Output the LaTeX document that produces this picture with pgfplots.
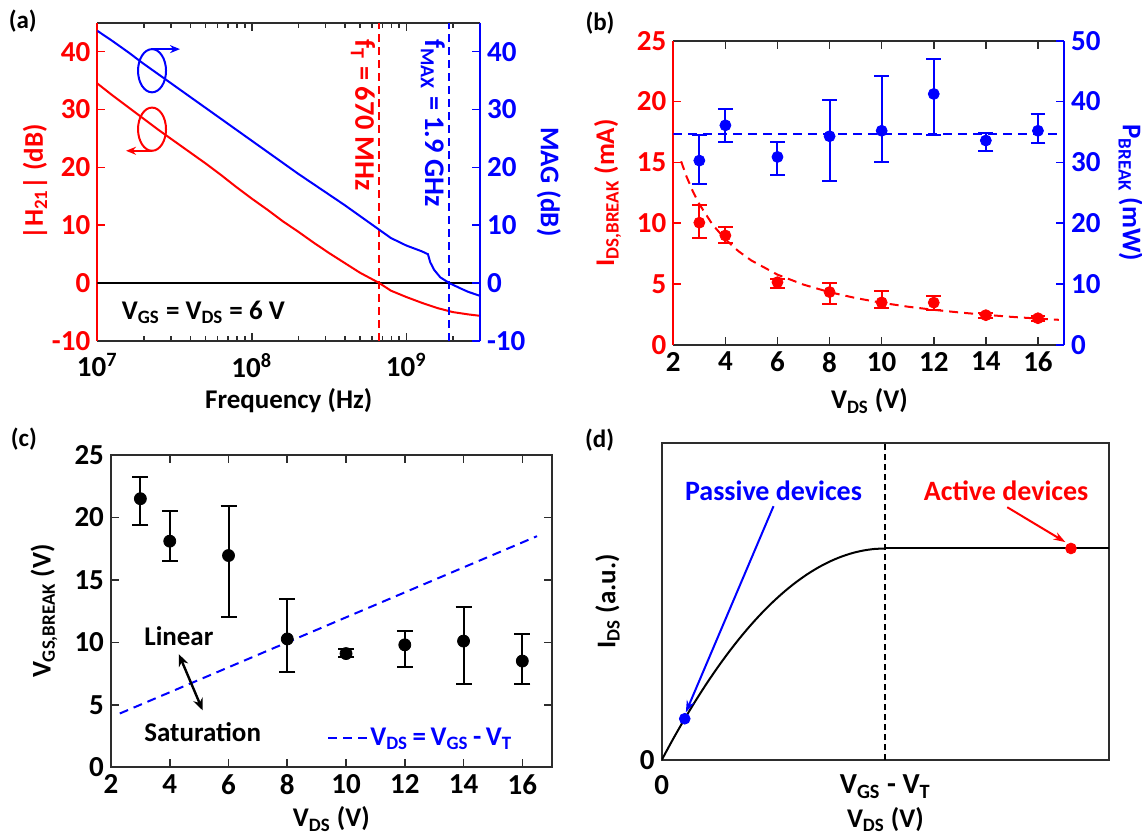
\documentclass[border=0pt]{standalone}
\usepackage{fontspec}
\setmainfont{Carlito}
\usepackage{pgfplots}
\pgfplotsset{compat=1.18}
\usetikzlibrary{arrows.meta}
\definecolor{axgray}{RGB}{45,45,45}
\pgfplotsset{
  every axis/.append style={
    scale only axis,
    anchor=north west,
    font=\fontsize{13.5}{16}\selectfont\bfseries,
    /pgf/number format/assume math mode=true,
    axis line style={line width=1pt, axgray},
    major tick length=4pt, minor tick length=2.5pt,
    every tick/.style={line width=0.8pt, axgray},
    tick align=inside,
    tick label style={font=\fontsize{14.5}{16}\selectfont\bfseries},
    xlabel style={font=\fontsize{14.5}{16}\selectfont\bfseries},
    ylabel style={font=\fontsize{14.5}{16}\selectfont\bfseries},
  },
  ebar/.style={error bars/.cd, y dir=both, y explicit,
    error bar style={line width=1pt}, error mark options={rotate=90, mark size=#1, line width=1pt}},
}
\begin{document}
\begin{tikzpicture}[font=\fontsize{13.5}{16}\selectfont\bfseries]
\path[use as bounding box] (0,0) rectangle (571pt,-418pt);
\node at (11.4pt,-10.8pt) {\fontsize{12.5}{14}\selectfont (a)};
\node at (300pt,-11.7pt) {\fontsize{12.5}{14}\selectfont (b)};
\node at (11.9pt,-219.4pt) {\fontsize{12.5}{14}\selectfont (c)};
\node at (299.8pt,-220.2pt) {\fontsize{12.5}{14}\selectfont (d)};

% ---------------- (a) left axis
\begin{axis}[at={(48.65pt,-11.35pt)}, width=191.35pt, height=159.15pt,
  xmode=log, xmin=1e7, xmax=3e9, ymin=-10, ymax=45,
  axis y line*=left, y axis line style={red},
  ytick={-10,0,10,20,30,40}, ytick style={red}, yticklabel style={red},
  xtick={1e7,1e8,1e9}, xticklabels={10\textsuperscript{7},10\textsuperscript{8},10\textsuperscript{9}},
  xticklabel style={yshift=-2.5pt},
  minor xtick={2e7,3e7,4e7,5e7,6e7,7e7,8e7,9e7,2e8,3e8,4e8,5e8,6e8,7e8,8e8,9e8,2e9,3e9},
  xlabel={Frequency (Hz)},
  ylabel={\textbar H\textsubscript{21}\textbar\ (dB)},
  every axis y label/.style={at={(axis description cs:-0.163,0.5)}, rotate=90, anchor=center, red},
  every axis x label/.style={at={(axis description cs:0.5,-0.188)}, anchor=center},
]
\addplot[black, line width=0.9pt] coordinates {(1e7,0) (3e9,0)};
\addplot[red, line width=1pt] coordinates {
(1e7,34.5) (1.259e7,32.4) (1.585e7,30.4) (1.995e7,28.4) (2.512e7,26.4) (3.162e7,24.5)
(3.981e7,22.6) (5.012e7,20.7) (6.310e7,18.7) (7.943e7,16.6) (1e8,14.6) (1.259e8,12.7)
(1.585e8,10.7) (1.995e8,8.9) (2.512e8,7.0) (3.162e8,5.2) (3.981e8,3.5) (5.012e8,1.8)
(6.7e8,0) (7.943e8,-1.3) (1e9,-2.4) (1.259e9,-3.4) (1.585e9,-4.3) (1.995e9,-5.0)
(2.512e9,-5.4) (3e9,-5.65)};
\addplot[red, line width=1pt, dash pattern=on 4pt off 2.5pt] coordinates {(6.7e8,-10) (6.7e8,45)};
\addplot[blue, line width=1pt, dash pattern=on 4pt off 2.5pt] coordinates {(1.9e9,-10) (1.9e9,45)};
\node[red, rotate=-90, anchor=north west, inner sep=2pt, font=\fontsize{14.2}{16}\selectfont\bfseries] at (axis cs:6.7e8,42.8) {f\textsubscript{T} = 670 MHz};
\node[blue, rotate=-90, anchor=north west, inner sep=2pt, font=\fontsize{14.2}{16}\selectfont\bfseries] at (axis cs:1.9e9,42.9) {f\textsubscript{MAX} = 1.9 GHz};
\node[black, anchor=west] at (axis cs:1.3e7,-5.1) {V\textsubscript{GS} = V\textsubscript{DS} = 6 V};
\draw[blue, line width=1pt] (axis cs:2.26e7,36.7) ellipse [x radius=7pt, y radius=10.8pt];
\draw[blue, line width=1pt, -{Stealth[length=5pt,width=4pt]}] (axis cs:2.26e7,36.7) ++(0pt,10.8pt) -- ++(14pt,0pt);
\draw[red, line width=1pt] (axis cs:2.26e7,26.6) ellipse [x radius=7pt, y radius=10.8pt];
\draw[red, line width=1pt, -{Stealth[length=5pt,width=4pt]}] (axis cs:2.26e7,26.6) ++(0pt,-10.8pt) -- ++(-13pt,0pt);
\end{axis}
% ---------------- (a) right axis
\begin{axis}[at={(48.65pt,-11.35pt)}, width=191.35pt, height=159.15pt,
  xmode=log, xmin=1e7, xmax=3e9, ymin=-10, ymax=45,
  axis y line*=right, axis x line=none, y axis line style={blue},
  ytick={-10,0,10,20,30,40}, ytick style={blue}, yticklabel style={blue},
  ylabel={MAG (dB)},
  every axis y label/.style={at={(axis description cs:1.18,0.5)}, rotate=-90, anchor=center, blue},
]
\addplot[blue, line width=1pt] coordinates {
(1e7,43.6) (1.259e7,41.8) (1.585e7,39.9) (1.995e7,37.9) (2.512e7,36.0) (3.162e7,34.1)
(3.981e7,32.2) (5.012e7,30.3) (6.310e7,28.4) (7.943e7,26.5) (1e8,24.6) (1.259e8,22.7)
(1.585e8,20.8) (1.995e8,18.9) (2.512e8,17.1) (3.162e8,15.3) (3.981e8,13.5) (5.012e8,11.6)
(6.7e8,9.2) (7.943e8,7.8) (1e9,6.5) (1.259e9,5.5) (1.380e9,5.0) (1.429e9,3.6)
(1.514e9,2.3) (1.660e9,1.0) (1.9e9,0) (2.239e9,-0.9) (2.512e9,-1.5) (3e9,-2.2)};
\end{axis}

% ---------------- (b) left axis
\begin{axis}[at={(336.65pt,-20.35pt)}, width=195.35pt, height=152.15pt,
  xmin=2, xmax=17, ymin=0, ymax=25,
  axis y line*=left, y axis line style={red},
  ytick={0,5,10,15,20,25}, ytick style={red}, yticklabel style={red},
  xtick={2,4,...,16},
  xlabel={V\textsubscript{DS} (V)},
  ylabel={I\textsubscript{DS,BREAK} (mA)},
  every axis y label/.style={at={(axis description cs:-0.168,0.5)}, rotate=90, anchor=center, red},
  every axis x label/.style={at={(axis description cs:0.502,-0.184)}, anchor=center},
]
\addplot[red, line width=1pt, dash pattern=on 4.5pt off 3pt] coordinates {
(2.3,15.09) (2.5,13.88) (2.75,12.62) (3,11.57) (3.5,9.91) (4,8.68) (4.5,7.71) (5,6.94)
(6,5.78) (7,4.96) (8,4.34) (9,3.86) (10,3.47) (11,3.15) (12,2.89) (13,2.67) (14,2.48)
(15,2.31) (16,2.17) (16.8,2.07)};
\addplot[red, only marks, mark=*, mark size=2.75pt, ebar=3.7pt] coordinates {
(3,10.05) += (0,1.45) -= (0,1.25)
(4,9.0) += (0,0.7) -= (0,0.65)
(6,5.16) += (0,0.3) -= (0,0.45)
(8,4.35) += (0,0.75) -= (0,0.95)
(10,3.5) += (0,0.95) -= (0,0.5)
(12,3.48) += (0,0.52) -= (0,0.63)
(14,2.45) += (0,0.15) -= (0,0.25)
(16,2.2) += (0,0.2) -= (0,0.2)};
\end{axis}
% ---------------- (b) right axis
\begin{axis}[at={(336.65pt,-20.35pt)}, width=195.35pt, height=152.15pt,
  xmin=2, xmax=17, ymin=0, ymax=50,
  axis y line*=right, axis x line=none, y axis line style={blue},
  ytick={0,10,20,30,40,50}, ytick style={blue}, yticklabel style={blue},
  ylabel={P\textsubscript{BREAK} (mW)},
  every axis y label/.style={at={(axis description cs:1.171,0.5)}, rotate=-90, anchor=center, blue},
]
\addplot[blue, line width=1pt, dash pattern=on 4.5pt off 3pt] coordinates {(2,34.7) (16.8,34.7)};
\addplot[blue, only marks, mark=*, mark size=2.75pt, ebar=3.7pt] coordinates {
(3,30.3) += (0,4.2) -= (0,3.8)
(4,36.1) += (0,2.65) -= (0,2.8)
(6,30.9) += (0,2.4) -= (0,2.9)
(8,34.3) += (0,6.0) -= (0,7.3)
(10,35.2) += (0,9.0) -= (0,5.2)
(12,41.25) += (0,5.75) -= (0,6.75)
(14,33.6) += (0,1.3) -= (0,1.7)
(16,35.2) += (0,2.7) -= (0,2.0)};
\end{axis}

% ---------------- (c)
\begin{axis}[at={(55.5pt,-227.5pt)}, width=220.35pt, height=156.1pt,
  xmin=2, xmax=17, ymin=0, ymax=25,
  xtick={2,4,...,16}, ytick={0,5,...,25},
  xlabel={V\textsubscript{DS} (V)},
  ylabel={V\textsubscript{GS,BREAK} (V)},
  every axis y label/.style={at={(axis description cs:-0.152,0.5)}, rotate=90, anchor=center},
  every axis x label/.style={at={(axis description cs:0.5,-0.166)}, anchor=center},
  legend style={at={(axis cs:9.35,2.31)}, anchor=west, draw=none, fill=none, inner sep=0pt,
    nodes={inner sep=1pt, text=blue}, column sep=0pt},
  legend image code/.code={\draw[#1] (0pt,0pt) -- (19.5pt,0pt);},
]
\addplot[blue, line width=1pt, dash pattern=on 4.5pt off 3pt] coordinates {(2.3,4.3) (16.5,18.5)};
\addlegendentry{V\textsubscript{DS}\,=\,V\textsubscript{GS}\,-\,V\textsubscript{T}}
\addplot[black, only marks, mark=*, mark size=3pt, forget plot, ebar=4pt] coordinates {
(3,21.5) += (0,1.7) -= (0,2.1)
(4,18.1) += (0,2.4) -= (0,1.6)
(6,16.95) += (0,4.0) -= (0,4.95)
(8,10.27) += (0,3.23) -= (0,2.67)
(10,9.1) += (0,0.4) -= (0,0.3)
(12,9.8) += (0,1.1) -= (0,1.8)
(14,10.1) += (0,2.7) -= (0,3.4)
(16,8.5) += (0,2.2) -= (0,1.8)};
\node at (axis cs:4.31,10.52) {Linear};
\node at (axis cs:5.12,2.85) {Saturation};
\draw[line width=1.2pt, {Stealth[length=6pt,width=5pt]}-{Stealth[length=6pt,width=5pt]}] (axis cs:4.31,9.05) -- (axis cs:5.12,4.55);
\end{axis}

% ---------------- (d)
\begin{axis}[at={(330.85pt,-221.35pt)}, width=223.65pt, height=158.65pt,
  xmin=0, xmax=2, ymin=0, ymax=1.5,
  xtick={0,1}, xticklabels={0,V\textsubscript{GS} - V\textsubscript{T}},
  ytick={0}, yticklabels={0}, major tick length=0pt,
  xticklabel style={yshift=-4pt},
  xlabel={V\textsubscript{DS} (V)},
  ylabel={I\textsubscript{DS} (a.u.)},
  every axis y label/.style={at={(axis description cs:-0.121,0.5)}, rotate=90, anchor=center},
  every axis x label/.style={at={(axis description cs:0.5,-0.187)}, anchor=center},
]
\addplot[black, line width=0.9pt, dash pattern=on 3pt off 2pt] coordinates {(1,0) (1,1.5)};
\addplot[black, line width=1pt, smooth] coordinates {
(0,0) (0.05,0.0975) (0.1,0.19) (0.15,0.2775) (0.2,0.36) (0.25,0.4375) (0.3,0.51)
(0.35,0.5775) (0.4,0.64) (0.45,0.6975) (0.5,0.75) (0.55,0.7975) (0.6,0.84) (0.65,0.8775)
(0.7,0.91) (0.75,0.9375) (0.8,0.96) (0.85,0.9775) (0.9,0.99) (0.95,0.9975) (1,1)};
\addplot[black, line width=1pt] coordinates {(1,1) (2,1)};
\addplot[blue, only marks, mark=*, mark size=2.7pt] coordinates {(0.103,0.195)};
\addplot[red, only marks, mark=*, mark size=2.7pt] coordinates {(1.83,1.0)};
\node[blue, font=\fontsize{14}{16}\selectfont\bfseries] at (axis cs:0.5,1.275) {Passive devices};
\node[red, font=\fontsize{14}{16}\selectfont\bfseries] at (axis cs:1.54,1.275) {Active devices};
\draw[blue, line width=1pt, -{Stealth[length=6pt,width=4pt]}] (axis cs:0.5,1.2) -- (axis cs:0.108,0.225);
\draw[red, line width=1pt, -{Stealth[length=6pt,width=4pt]}] (axis cs:1.545,1.195) -- (axis cs:1.805,1.03);
\end{axis}
\end{tikzpicture}
\end{document}
